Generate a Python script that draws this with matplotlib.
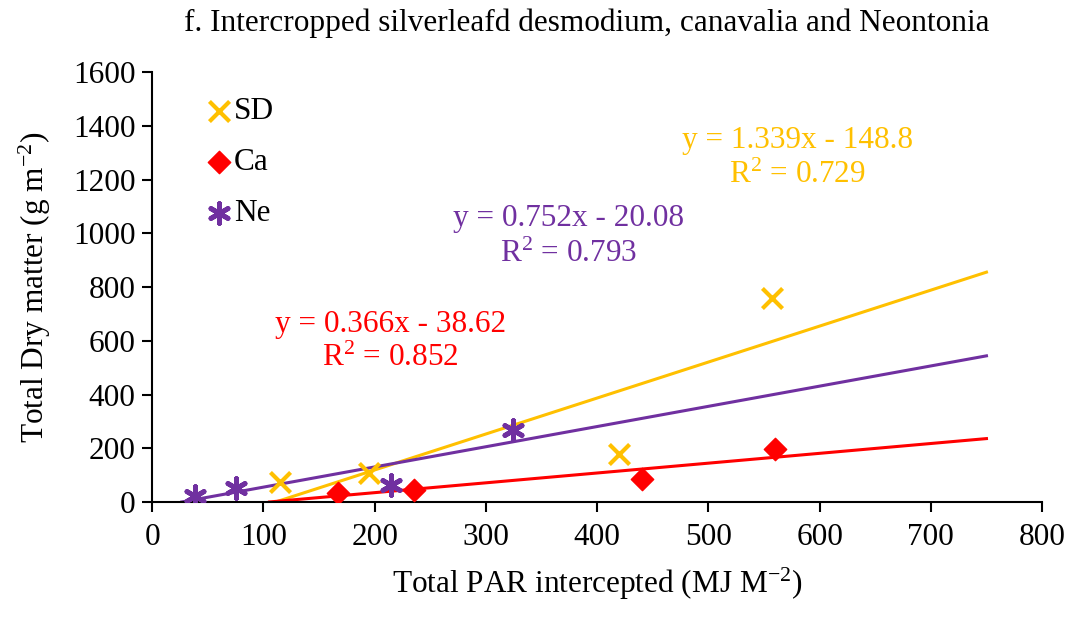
import matplotlib
matplotlib.use("Agg")
import matplotlib.pyplot as plt
import numpy as np

plt.rcParams['font.family'] = ['Liberation Serif', 'DejaVu Serif']
plt.rcParams['mathtext.fontset'] = 'custom'
plt.rcParams['mathtext.rm'] = 'Liberation Serif'
plt.rcParams['mathtext.it'] = 'Liberation Serif:italic'

# Data
sd_x = [115, 195, 420, 557]
sd_y = [75, 108, 177, 760]
ca_x = [167, 235, 440, 560]
ca_y = [32, 45, 85, 196]
ne_x = [39, 75, 215, 324]
ne_y = [24, 52, 64, 267]

# Fit coefficients (slope, intercept, R2)
sd_fit = (1.339, -148.8, 0.729)
ca_fit = (0.366, -38.62, 0.852)
ne_fit = (0.752, -20.08, 0.793)

x_ticks = [0, 100, 200, 300, 400, 500, 600, 700, 800]
y_ticks = [0, 200, 400, 600, 800, 1000, 1200, 1400, 1600]

c_sd = '#FFC000'
c_ca = '#FF0000'
c_ne = '#7030A0'

FS = 22.5

fig = plt.figure(figsize=(10.71, 6.22), dpi=100)
ax = fig.add_axes([0.142, 0.193, 0.831, 0.691])

def trend(fit, color):
    m, b, _ = fit
    x0 = max(0, -b / m)
    xs = np.array([x0, 750])
    ax.plot(xs, m * xs + b, color=color, lw=2.2, zorder=2)

trend(sd_fit, c_sd)
trend(ca_fit, c_ca)
trend(ne_fit, c_ne)

ax.scatter(sd_x, sd_y, marker='x', s=210, color=c_sd, linewidths=3, label='SD', zorder=3)
ax.scatter(ca_x, ca_y, marker='D', s=130, color=c_ca, label='Ca', zorder=3)
ax.scatter(ne_x, ne_y, marker=(6, 2, 0), s=200, color=c_ne, linewidths=3.5, label='Ne', zorder=3)

ax.set_xlim(0, 800)
ax.set_ylim(0, 1600)
ax.set_xticks(x_ticks)
ax.set_yticks(y_ticks)
ax.tick_params(axis='both', labelsize=FS, direction='out', length=7, width=1.5, color='black')
ax.tick_params(axis='x', pad=8)
ax.tick_params(axis='y', pad=5)
for s in ['top', 'right']:
    ax.spines[s].set_visible(False)
for s in ['left', 'bottom']:
    ax.spines[s].set_linewidth(1.5)
    ax.spines[s].set_color('black')

ax.set_xlabel(r'Total PAR intercepted (MJ M$^{-2}$)', fontsize=FS, labelpad=10)
ax.set_ylabel(r'Total Dry matter (g m$^{-2}$)', fontsize=FS, labelpad=14)
fig.text(0.548, 0.962, 'f. Intercropped silverleafd desmodium, canavalia and Neontonia',
         fontsize=22.5, ha='center', va='center')

def ann(fit, color, x, y1, y2):
    m, b, r2 = fit
    ax.text(x, y1, f'y = {m:.3f}x - {abs(b):g}', color=color,
            fontsize=FS, ha='center', va='center')
    ax.text(x, y2, f'R$^{{2}}$ = {r2:.3f}', color=color,
            fontsize=FS, ha='center', va='center')

ann(sd_fit, c_sd, 580, 1347, 1217)
ann(ne_fit, c_ne, 374, 1057, 923)
ann(ca_fit, c_ca, 214, 662, 536)

leg = ax.legend(loc='upper left', bbox_to_anchor=(0.022, 1.007), frameon=False, fontsize=FS,
                handletextpad=-0.1, labelspacing=0.7, handlelength=1.2, scatterpoints=1)

fig.savefig('out.png', dpi=100)
